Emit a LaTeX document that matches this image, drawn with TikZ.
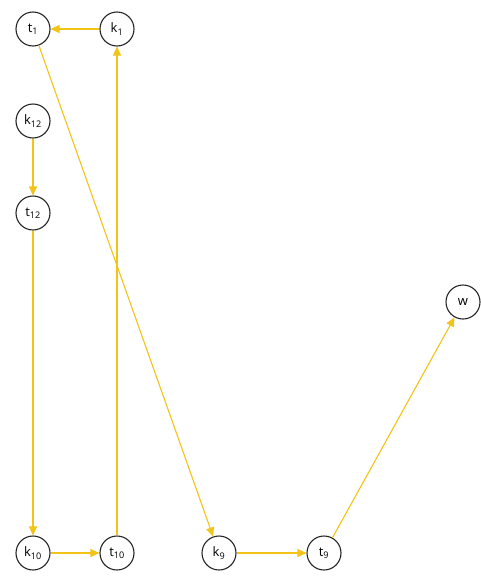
\documentclass[tikz,border=0pt]{standalone}
\usepackage{fontspec}
\setmainfont{Open Sans}
\usetikzlibrary{arrows.meta}
\definecolor{gold}{HTML}{F2C417}

\begin{document}
\begin{tikzpicture}[
  x=1pt, y=-1pt,
  line width=1.1pt,
  % every vertex is a plain black ring with its label inside
  vert/.style={draw=black!85,circle,fill=white,minimum size=34pt,inner sep=0pt,
               font=\fontsize{13}{15}\selectfont},
  edge/.style={draw=gold,-{Triangle[length=9pt,width=8pt]}},
]
\useasboundingbox (0,0) rectangle (480,576);

%--- vertices ------------------------------------------------------------------
\node[vert] (t1)  at (33,29)   {t\textsubscript{1}};
\node[vert] (k1)  at (117,29)  {k\textsubscript{1}};
\node[vert] (k12) at (33,121)  {k\textsubscript{12}};
\node[vert] (t12) at (33,213)  {t\textsubscript{12}};
\node[vert] (k10) at (33,553)  {k\textsubscript{10}};
\node[vert] (t10) at (117,553) {t\textsubscript{10}};
\node[vert] (k9)  at (219,553) {k\textsubscript{9}};
\node[vert] (t9)  at (324,553) {t\textsubscript{9}};
\node[vert] (w)   at (463,302) {w};

%--- edges ---------------------------------------------------------------------
\draw[edge] (k1) -- (t1);
\draw[edge] (t1) -- (k9);
\draw[edge] (k12) -- (t12);
\draw[edge] (t12) -- (k10);
\draw[edge] (k10) -- (t10);
\draw[edge] (t10) -- (k1);
\draw[edge] (k9) -- (t9);
\draw[edge] (t9) -- (w);

\end{tikzpicture}
\end{document}
